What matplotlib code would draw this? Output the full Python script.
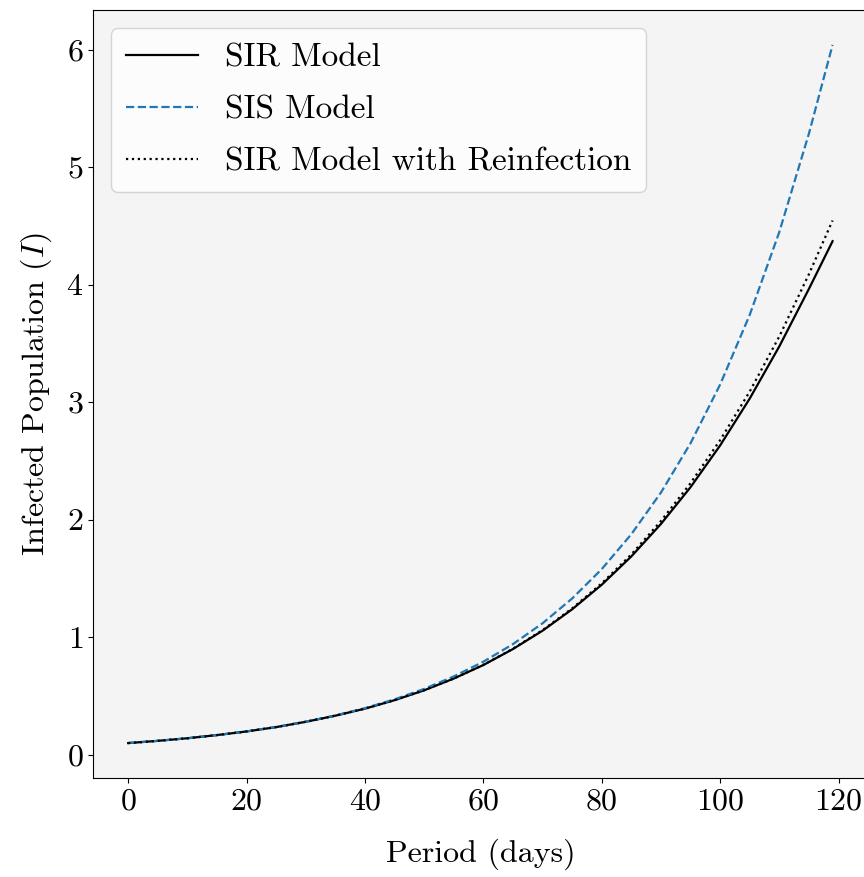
import matplotlib
matplotlib.use("Agg")
import matplotlib.pyplot as plt

plt.rcParams["font.family"] = "serif"
plt.rcParams["font.serif"] = ["cmr10"]
plt.rcParams["mathtext.fontset"] = "cm"
plt.rcParams["axes.formatter.use_mathtext"] = True
plt.rcParams["font.size"] = 23

# infected population over time, read every 5 days (last point is day 119)
days = [0, 5, 10, 15, 20, 25, 30, 35, 40, 45, 50, 55, 60,
        65, 70, 75, 80, 85, 90, 95, 100, 105, 110, 115, 119]

sir = [0.100, 0.119, 0.141, 0.168, 0.199, 0.236, 0.281, 0.333, 0.393,
       0.465, 0.549, 0.649, 0.764, 0.900, 1.056, 1.238, 1.447, 1.688,
       1.964, 2.277, 2.632, 3.031, 3.475, 3.964, 4.370]

sis = [0.100, 0.119, 0.141, 0.168, 0.199, 0.237, 0.282, 0.335, 0.397,
       0.472, 0.561, 0.667, 0.792, 0.942, 1.119, 1.330, 1.580, 1.877,
       2.231, 2.651, 3.150, 3.743, 4.448, 5.285, 6.040]

sir_reinf = [0.100, 0.119, 0.141, 0.168, 0.199, 0.236, 0.281, 0.333, 0.393,
             0.465, 0.549, 0.649, 0.765, 0.903, 1.061, 1.246, 1.459, 1.705,
             1.989, 2.311, 2.677, 3.091, 3.560, 4.089, 4.546]

fig = plt.figure(figsize=(8.64, 8.77), dpi=100)
ax = fig.add_axes([0.1076, 0.1129, 0.8968, 0.8757])
ax.set_facecolor("#f4f4f4")

ax.plot(days, sir, color="black", lw=1.6, label="SIR Model")
ax.plot(days, sis, color="#1f77b4", lw=1.6, ls="--", label="SIS Model")
ax.plot(days, sir_reinf, color="black", lw=1.6, ls=":", label="SIR Model with Reinfection")

ax.set_xlabel("Period (days)", labelpad=17)
ax.set_ylabel("Infected Population ($I$)", labelpad=9)
ax.set_xticks([0, 20, 40, 60, 80, 100, 120])
ax.set_yticks([0, 1, 2, 3, 4, 5, 6])
ax.tick_params(top=False, right=False)

ax.legend(loc="upper left", fontsize=24, labelspacing=0.68,
          handlelength=2.15, borderaxespad=0.55, borderpad=0.45)

fig.savefig("out.png", dpi=100)
